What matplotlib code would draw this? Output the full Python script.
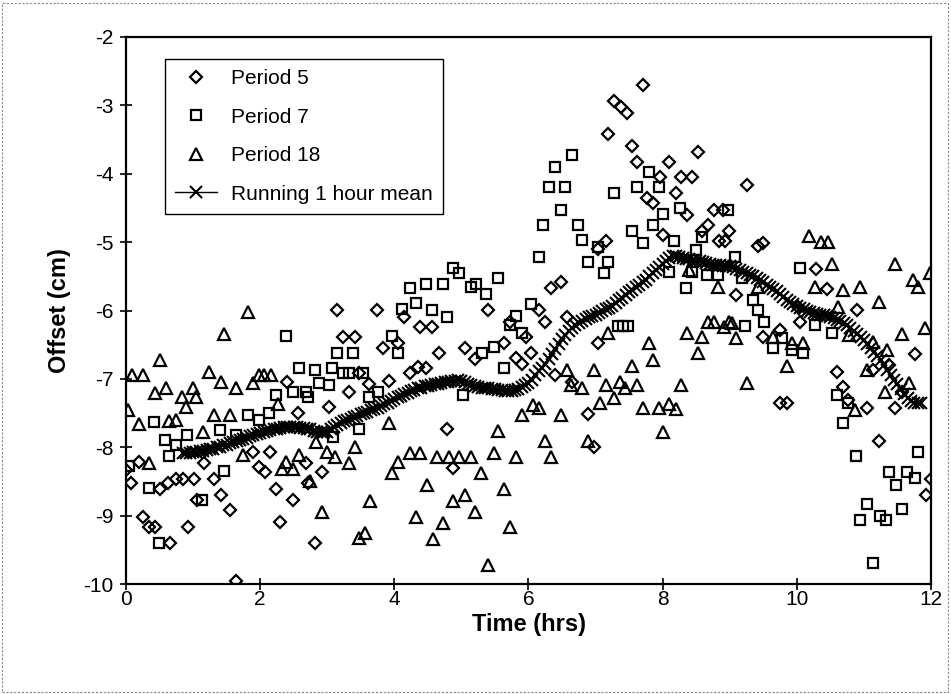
import numpy as np
import matplotlib
matplotlib.use("Agg")
import matplotlib.pyplot as plt
from matplotlib.patches import Rectangle

plt.rcParams['font.family'] = ['Liberation Sans', 'DejaVu Sans']

# ---------------- data ----------------
p5_x = [0.0, 0.07, 0.19, 0.25, 0.34, 0.43, 0.51, 0.62, 0.66, 0.74, 0.85, 0.92, 1.01, 1.06, 1.16,
        1.31, 1.41, 1.55, 1.64, 1.89, 1.98, 2.07, 2.14, 2.23, 2.29, 2.40, 2.49, 2.56, 2.68, 2.71,
        2.81, 2.92, 3.03, 3.14, 3.23, 3.32, 3.41, 3.47, 3.62, 3.74, 3.83, 3.92, 4.06, 4.14, 4.23,
        4.35, 4.38, 4.47, 4.56, 4.66, 4.79, 4.88, 5.06, 5.20, 5.39, 5.63, 5.72, 5.82, 5.91, 5.96,
        6.03, 6.15, 6.24, 6.33, 6.39, 6.48, 6.58, 6.65, 6.88, 6.97, 7.03, 7.04, 7.15, 7.19, 7.28,
        7.38, 7.47, 7.55, 7.61, 7.70, 7.77, 7.86, 7.96, 8.01, 8.10, 8.20, 8.28, 8.37, 8.44, 8.52,
        8.59, 8.68, 8.77, 8.84, 8.90, 8.93, 8.99, 9.10, 9.26, 9.42, 9.50, 9.50, 9.75, 9.75, 9.86,
        10.02, 10.05, 10.29, 10.45, 10.60, 10.69, 10.76, 10.90, 11.05, 11.14, 11.22, 11.37, 11.46,
        11.57, 11.76, 11.92, 12.0]
p5_y = [-8.33, -8.52, -8.21, -9.02, -9.16, -9.16, -8.61, -8.53, -9.40, -8.46, -8.46, -9.16, -8.46, -8.77, -8.23,
        -8.46, -8.70, -8.92, -9.95, -8.07, -8.29, -8.36, -8.07, -8.61, -9.09, -7.04, -8.77, -7.50, -8.23, -8.52,
        -9.40, -8.36, -7.41, -5.99, -6.39, -7.19, -6.39, -6.91, -7.07, -5.99, -6.55, -7.03, -6.47, -6.09, -6.91,
        -6.82, -6.24, -6.84, -6.24, -6.62, -7.73, -8.30, -6.55, -6.71, -5.99, -6.47, -6.17, -6.69, -6.78, -6.39,
        -6.62, -5.99, -6.17, -5.67, -6.94, -5.58, -6.09, -7.04, -7.51, -7.99, -5.10, -6.47, -4.98, -3.42, -2.94,
        -3.02, -3.11, -3.59, -3.83, -2.70, -4.35, -4.43, -4.05, -4.89, -3.83, -4.28, -4.05, -4.60, -4.05, -3.68,
        -4.84, -4.75, -4.53, -4.98, -4.53, -4.98, -4.84, -5.77, -4.16, -5.06, -5.01, -6.39, -6.28, -7.35, -7.35,
        -5.95, -6.17, -5.40, -5.69, -6.90, -7.12, -7.31, -5.99, -7.43, -6.87, -7.91, -6.80, -7.43,
        -7.19, -6.63, -8.70, -8.46]

p7_x = [0.05, 0.34, 0.42, 0.49, 0.58, 0.64, 0.74, 0.91, 1.13, 1.40, 1.46, 1.64, 1.82, 1.98, 2.13,
        2.23, 2.38, 2.49, 2.58, 2.68, 2.71, 2.81, 2.87, 3.02, 3.07, 3.08, 3.14, 3.23, 3.32, 3.39,
        3.47, 3.54, 3.62, 3.75, 3.97, 4.05, 4.12, 4.23, 4.32, 4.47, 4.56, 4.72, 4.79, 4.88, 4.96,
        5.02, 5.15, 5.21, 5.30, 5.37, 5.48, 5.55, 5.63, 5.72, 5.81, 5.91, 6.03, 6.15, 6.22, 6.31,
        6.39, 6.48, 6.55, 6.65, 6.74, 6.80, 6.88, 7.03, 7.13, 7.19, 7.27, 7.34, 7.41, 7.49, 7.55,
        7.61, 7.70, 7.79, 7.86, 7.94, 8.01, 8.10, 8.17, 8.26, 8.35, 8.43, 8.50, 8.59, 8.66, 8.82,
        8.98, 9.08, 9.19, 9.23, 9.34, 9.42, 9.51, 9.65, 9.78, 9.93, 10.05, 10.09, 10.27, 10.53, 10.60,
        10.69, 10.76, 10.88, 10.94, 11.05, 11.14, 11.24, 11.33, 11.37, 11.48, 11.57, 11.64, 11.76, 11.81]
p7_y = [-8.28, -8.59, -7.63, -9.40, -7.89, -8.13, -7.97, -7.82, -8.77, -7.75, -8.35, -7.82, -7.53, -7.60, -7.50,
        -7.23, -6.37, -7.19, -6.84, -7.19, -7.26, -6.87, -7.06, -7.09, -6.84, -7.85, -6.62, -6.91, -6.91, -6.62,
        -7.73, -6.91, -7.26, -7.19, -6.37, -6.62, -5.98, -5.67, -5.89, -5.61, -5.99, -5.61, -6.09, -5.38, -5.45,
        -7.23, -5.66, -5.61, -6.62, -5.76, -6.53, -5.52, -6.84, -6.21, -6.08, -6.33, -5.90, -5.22, -4.75, -4.19,
        -3.90, -4.53, -4.19, -3.73, -4.75, -4.97, -5.29, -5.07, -5.45, -5.29, -4.28, -6.22, -6.22, -6.22, -4.84,
        -4.19, -5.01, -3.97, -4.75, -4.19, -4.59, -5.44, -4.98, -4.50, -5.67, -5.44, -5.11, -4.92, -5.48, -5.48,
        -4.53, -5.22, -5.52, -6.23, -5.85, -5.99, -6.17, -6.55, -6.40, -6.58, -5.38, -6.62, -6.21, -6.33, -7.24,
        -7.64, -7.35, -8.13, -9.06, -8.83, -9.70, -9.00, -9.06, -8.36, -8.55, -8.91, -8.36, -8.45, -8.07]

p18_x = [0.03, 0.09, 0.19, 0.25, 0.34, 0.43, 0.51, 0.60, 0.64, 0.74, 0.83, 0.89, 1.00, 1.04, 1.15,
         1.24, 1.31, 1.41, 1.46, 1.55, 1.64, 1.74, 1.82, 1.89, 1.98, 2.05, 2.16, 2.26, 2.32, 2.38,
         2.49, 2.58, 2.75, 2.83, 2.92, 3.00, 3.12, 3.32, 3.41, 3.48, 3.56, 3.63, 3.92, 3.97, 4.06,
         4.23, 4.32, 4.39, 4.48, 4.57, 4.64, 4.73, 4.81, 4.88, 4.97, 5.05, 5.15, 5.20, 5.29, 5.39,
         5.48, 5.55, 5.63, 5.72, 5.81, 5.91, 6.06, 6.15, 6.24, 6.33, 6.48, 6.57, 6.63, 6.80, 6.88,
         6.97, 7.06, 7.15, 7.19, 7.28, 7.37, 7.44, 7.55, 7.61, 7.70, 7.79, 7.86, 7.95, 8.01, 8.10,
         8.20, 8.28, 8.37, 8.40, 8.52, 8.59, 8.68, 8.77, 8.82, 8.92, 8.99, 9.04, 9.10, 9.25, 9.42,
         9.65, 9.86, 9.93, 10.09, 10.18, 10.27, 10.36, 10.47, 10.53, 10.62, 10.69, 10.78, 10.87, 10.94,
         11.05, 11.14, 11.22, 11.31, 11.34, 11.46, 11.57, 11.67, 11.73, 11.81, 11.91, 11.98]
p18_y = [-7.45, -6.94, -7.66, -6.94, -8.23, -7.20, -6.72, -7.13, -7.61, -7.60, -7.26, -7.41, -7.13, -7.26, -7.77,
         -6.90, -7.53, -7.04, -6.34, -7.53, -7.13, -8.11, -6.02, -7.06, -6.94, -6.94, -6.94, -7.37, -8.32, -8.21,
         -8.32, -8.11, -8.50, -7.92, -8.94, -8.07, -8.14, -8.23, -7.99, -9.32, -9.25, -8.78, -7.64, -8.37, -8.21,
         -8.08, -9.02, -8.08, -8.55, -9.34, -8.14, -9.11, -8.14, -8.78, -8.14, -8.70, -8.14, -8.94, -8.37, -9.72,
         -8.08, -7.76, -8.61, -9.16, -8.14, -7.53, -7.38, -7.43, -7.91, -8.14, -7.53, -6.87, -7.09, -7.13, -7.91,
         -6.87, -7.35, -7.09, -6.33, -7.28, -7.04, -7.13, -6.81, -7.09, -7.43, -6.47, -6.72, -7.43, -7.78, -7.37,
         -7.44, -7.09, -6.33, -5.41, -6.62, -6.39, -6.17, -6.17, -5.66, -6.24, -6.17, -6.18, -6.40, -7.06, -5.66,
         -6.39, -6.81, -6.47, -6.47, -4.91, -5.66, -5.00, -5.00, -5.32, -5.95, -5.70, -6.36, -7.45, -5.66,
         -6.87, -6.46, -5.87, -7.19, -6.58, -5.32, -6.34, -7.06, -5.55, -5.66, -6.25, -5.45]

mean_start, mean_step = 0.85, 0.05
mean_y = [-8.08, -8.09, -8.08,
          -8.07, -8.07, -8.06, -8.05, -8.04, -8.03, -8.02, -8.00, -7.99, -7.97,
          -7.96, -7.94, -7.93, -7.91, -7.90, -7.88, -7.86, -7.84, -7.82, -7.80,
          -7.79, -7.78, -7.76, -7.75, -7.74, -7.73, -7.72, -7.71, -7.71, -7.70,
          -7.70, -7.71, -7.72, -7.72, -7.73, -7.74, -7.76, -7.77, -7.78, -7.78,
          -7.77, -7.74, -7.71, -7.68, -7.65, -7.62, -7.60, -7.58, -7.56, -7.54,
          -7.52, -7.50, -7.48, -7.46, -7.44, -7.42, -7.39, -7.37, -7.35, -7.32,
          -7.30, -7.27, -7.25, -7.22, -7.20, -7.18, -7.16, -7.14, -7.13, -7.11,
          -7.10, -7.09, -7.08, -7.07, -7.06, -7.05, -7.04, -7.03, -7.03, -7.02,
          -7.03, -7.05, -7.07, -7.09, -7.11, -7.12, -7.13, -7.14, -7.14, -7.15,
          -7.15, -7.16, -7.17, -7.18, -7.18, -7.18, -7.17, -7.15, -7.12, -7.09,
          -7.06, -7.01, -6.95, -6.89, -6.84, -6.78, -6.71, -6.64, -6.56, -6.49,
          -6.42, -6.36, -6.30, -6.25, -6.21, -6.18, -6.15, -6.12, -6.10, -6.08,
          -6.07, -6.04, -6.01, -5.98, -5.96, -5.93, -5.89, -5.85, -5.81, -5.77,
          -5.73, -5.70, -5.66, -5.62, -5.58, -5.55, -5.50, -5.45, -5.41, -5.36,
          -5.32, -5.27, -5.23, -5.20, -5.21, -5.22, -5.23, -5.24, -5.25, -5.26,
          -5.27, -5.28, -5.29, -5.31, -5.32, -5.33, -5.34, -5.34, -5.35, -5.35,
          -5.35, -5.37, -5.39, -5.41, -5.43, -5.45, -5.48, -5.50, -5.53, -5.55,
          -5.58, -5.62, -5.65, -5.69, -5.72, -5.76, -5.80, -5.84, -5.87, -5.91,
          -5.94, -5.96, -5.98, -6.00, -6.02, -6.04, -6.05, -6.06, -6.07, -6.08,
          -6.09, -6.11, -6.14, -6.16, -6.19, -6.21, -6.25, -6.30, -6.34, -6.39,
          -6.43, -6.49, -6.55, -6.61, -6.67, -6.73, -6.80, -6.87, -6.94, -7.01,
          -7.08, -7.15, -7.22, -7.28, -7.33, -7.35, -7.36, -7.36]
mean_x = mean_start + mean_step * np.arange(len(mean_y))

labels = ["Period 5", "Period 7", "Period 18", "Running 1 hour mean"]
x_ticks = [0, 2, 4, 6, 8, 10, 12]
y_ticks = [-10, -9, -8, -7, -6, -5, -4, -3, -2]

# ---------------- figure ----------------
W, H = 951, 694
fig = plt.figure(figsize=(W / 100, H / 100), dpi=100)
fig.patch.set_facecolor('white')
fig.patches.append(Rectangle((2 / W, 2 / H), 1 - 5 / W, 1 - 5 / H, transform=fig.transFigure,
                             fill=False, edgecolor='#888888', linewidth=0.8, linestyle=(0, (2, 1.5))))

ax = fig.add_axes([126 / W, 1 - 584 / H, (931 - 126) / W, (584 - 37) / H])

mkw = dict(linestyle='none', markerfacecolor='none', markeredgecolor='black', markeredgewidth=1.6)
h5, = ax.plot(p5_x, p5_y, marker='D', markersize=6.4, **mkw)
h7, = ax.plot(p7_x, p7_y, marker='s', markersize=7.2, **mkw)
h18, = ax.plot(p18_x, p18_y, marker='^', markersize=8.2, **mkw)
hm, = ax.plot(mean_x, mean_y, color='black', linewidth=1.0, marker='x', markersize=8,
              markeredgewidth=1.5)

ax.set_xlim(0, 12)
ax.set_ylim(-10, -2)
ax.set_xticks(x_ticks)
ax.set_yticks(y_ticks)
ax.set_xticklabels([str(t) for t in x_ticks])
ax.set_yticklabels([str(t) for t in y_ticks])
ax.tick_params(axis='both', direction='inout', length=8, width=1.2, labelsize=15, color='black')
ax.tick_params(axis='y', pad=5)
ax.tick_params(axis='x', pad=0)
for sp in ax.spines.values():
    sp.set_linewidth(1.6)
    sp.set_color('black')

ax.set_xlabel("Time (hrs)", fontsize=17, fontweight='bold', labelpad=3)
ax.set_ylabel("Offset (cm)", fontsize=17, fontweight='bold', labelpad=9)

leg = ax.legend([h5, h7, h18, hm], labels, loc='upper left',
                bbox_to_anchor=(165 / W, 1 - 59 / H), bbox_transform=fig.transFigure,
                fontsize=15, frameon=True, fancybox=False, framealpha=1, edgecolor='black',
                borderaxespad=0, borderpad=0.5, handlelength=2.0, handletextpad=0.65,
                labelspacing=0.93)
leg.get_frame().set_linewidth(1.0)

fig.savefig("out.png", dpi=100)
